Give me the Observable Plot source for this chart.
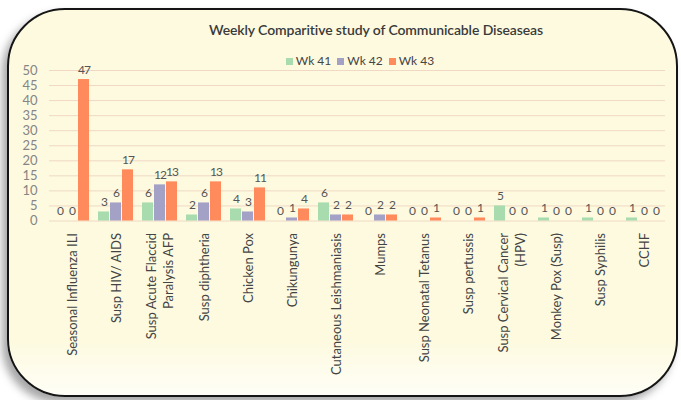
<!DOCTYPE html>
<html>
<head>
<meta charset="utf-8">
<script src="https://cdn.jsdelivr.net/npm/d3@7"></script>
<script src="https://cdn.jsdelivr.net/npm/@observablehq/plot@0.6"></script>
<style>
  html, body { margin: 0; padding: 0; background: #ffffff; width: 681px; height: 400px; overflow: hidden; font-family: Lato, "Open Sans", sans-serif; }
  #card { position: absolute; left: 7px; top: 8px; width: 667px; height: 385px; border: 2px solid #151515; border-radius: 58px;
    background: linear-gradient(to bottom, #fdfae0 0%, #fdfae0 86%, #fffef6 100%);
    box-shadow: -5px 6px 8px rgba(0,0,0,0.35); }
  #title { position: absolute; left: 0; width: 752px; top: 21px; text-align: center; font-size: 14px; font-weight: 600; color: #3a3a3a; letter-spacing: -0.1px; }
  #legend { position: absolute; left: 0; width: 720px; top: 53px; text-align: center; font-size: 12px; color: #444; }
  #legend span.item { margin: 0 3px; }
  #legend span.sw { display: inline-block; width: 7px; height: 7px; margin-right: 3px; }
  #chart { position: absolute; left: 0; top: 50px; }
  .vals text { letter-spacing: -1px; }
</style>
</head>
<body>
<div id="card"></div>
<div id="title">Weekly Comparitive study of Communicable Diseaseas</div>
<div id="legend"></div>
<div id="chart"></div>
<script>
const diseases = ["Seasonal Influenza ILI", "Susp HIV/ AIDS", "Susp Acute Flaccid\nParalysis AFP", "Susp diphtheria", "Chicken Pox", "Chikungunya", "Cutaneous Leishmaniasis", "Mumps", "Susp Neonatal Tetanus", "Susp pertussis", "Susp Cervical Cancer\n(HPV)", "Monkey Pox (Susp)", "Susp Syphilis", "CCHF"];
const weeks = ["Wk 41", "Wk 42", "Wk 43"];
const wk41 = [0, 3, 6, 2, 4, 0, 6, 0, 0, 0, 5, 1, 1, 1];
const wk42 = [0, 6, 12, 6, 3, 1, 2, 2, 0, 0, 0, 0, 0, 0];
const wk43 = [47, 17, 13, 13, 11, 4, 2, 2, 1, 1, 0, 0, 0, 0];
const yTicks = [0, 5, 10, 15, 20, 25, 30, 35, 40, 45, 50];
const colors = ["#a8dcae", "#a4a1c7", "#ff8b5d"];

const series = [wk41, wk42, wk43];
const data = [];
diseases.forEach((d, i) => weeks.forEach((w, j) => data.push({disease: d, week: w, value: series[j][i]})));

const legend = document.getElementById("legend");
weeks.forEach((w, j) => {
  const it = document.createElement("span");
  it.className = "item";
  it.innerHTML = `<span class="sw" style="background:${colors[j]}"></span>${w}`;
  legend.appendChild(it);
});

const chart = Plot.plot({
  width: 681,
  height: 345,
  marginLeft: 45,
  marginRight: 13,
  marginTop: 20,
  marginBottom: 174.5,
  style: {background: "transparent", fontFamily: "Lato, 'Open Sans', sans-serif", fontSize: "13px", overflow: "visible"},
  fx: {domain: diseases, padding: 0, label: null},
  x: {domain: weeks, paddingInner: 0.1, paddingOuter: 0.35, axis: null},
  y: {domain: [0, 50], label: null},
  color: {domain: weeks, range: colors},
  marks: [
    Plot.gridY(yTicks, {stroke: "#f0d8c4", strokeOpacity: 1, strokeWidth: 1}),
    Plot.axisY(yTicks, {tickSize: 0, tickPadding: 12, fill: "#858585", fontSize: 13, label: null}),
    Plot.axisFx({anchor: "bottom", tickRotate: -90, tickSize: 0, tickPadding: 12, fill: "#444", fontSize: 13, lineHeight: 1.3, label: null}),
    Plot.barY(data, {fx: "disease", x: "week", y: "value", fill: "week"}),
    Plot.text(data, {fx: "disease", x: "week", y: "value", text: d => String(d.value), dy: -6, lineAnchor: "bottom", fill: "#555", fontSize: 12, className: "vals"})
  ]
});
document.getElementById("chart").appendChild(chart);
</script>
</body>
</html>
